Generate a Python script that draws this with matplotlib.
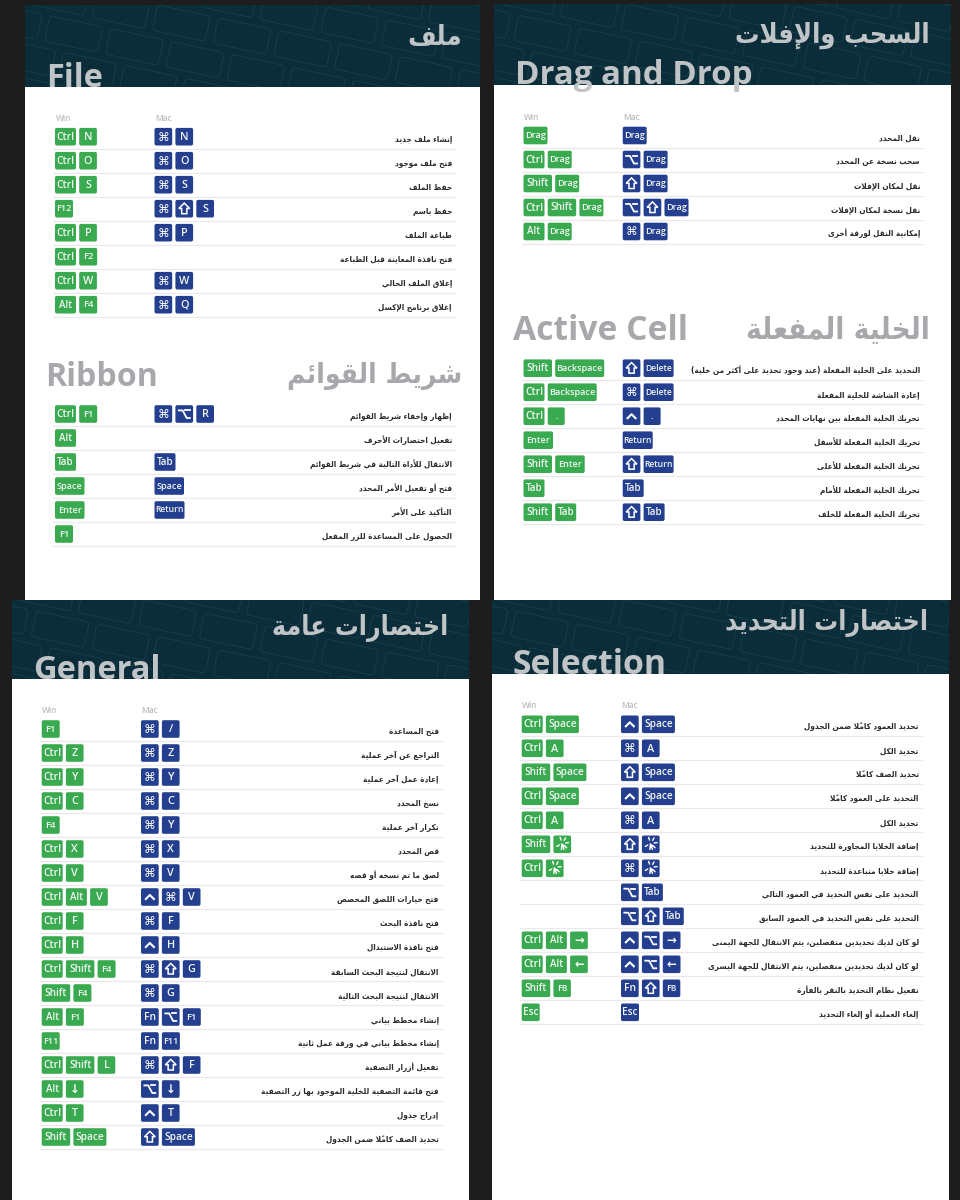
import math
import matplotlib
matplotlib.use("Agg")
import matplotlib.pyplot as plt
from matplotlib.patches import FancyBboxPatch, Rectangle, Polygon
from matplotlib.transforms import Affine2D

# ---------------- DATA ----------------
FILE_TITLE_EN, FILE_TITLE_AR = "File", "ملف"
FILE_ACTIONS = ["إنشاء ملف جديد", "فتح ملف موجود", "حفظ الملف", "حفظ باسم", "طباعة الملف",
                "فتح نافذة المعاينة قبل الطباعة", "إغلاق الملف الحالي", "إغلاق برنامج الإكسل"]
FILE_WIN = [["Ctrl", "N"], ["Ctrl", "O"], ["Ctrl", "S"], ["F12"], ["Ctrl", "P"], ["Ctrl", "F2"], ["Ctrl", "W"], ["Alt", "F4"]]
FILE_MAC = [["⌘", "N"], ["⌘", "O"], ["⌘", "S"], ["⌘", "⇧", "S"], ["⌘", "P"], [], ["⌘", "W"], ["⌘", "Q"]]

RIBBON_TITLE_EN, RIBBON_TITLE_AR = "Ribbon", "شريط القوائم"
RIBBON_ACTIONS = ["إظهار وإخفاء شريط القوائم", "تفعيل اختصارات الأحرف", "الانتقال للأداة التالية في شريط القوائم",
                  "فتح أو تفعيل الأمر المحدد", "التأكيد على الأمر", "الحصول على المساعدة للزر المفعل"]
RIBBON_WIN = [["Ctrl", "F1"], ["Alt"], ["Tab"], ["Space"], ["Enter"], ["F1"]]
RIBBON_MAC = [["⌘", "⌥", "R"], [], ["Tab"], ["Space"], ["Return"], []]

DRAG_TITLE_EN, DRAG_TITLE_AR = "Drag and Drop", "السحب والإفلات"
DRAG_ACTIONS = ["نقل المحدد", "سحب نسخة عن المحدد", "نقل لمكان الإفلات", "نقل نسخة لمكان الإفلات", "إمكانية النقل لورقة أخرى"]
DRAG_WIN = [["Drag"], ["Ctrl", "Drag"], ["Shift", "Drag"], ["Ctrl", "Shift", "Drag"], ["Alt", "Drag"]]
DRAG_MAC = [["Drag"], ["⌥", "Drag"], ["⇧", "Drag"], ["⌥", "⇧", "Drag"], ["⌘", "Drag"]]

ACTIVE_TITLE_EN, ACTIVE_TITLE_AR = "Active Cell", "الخلية المفعلة"
ACTIVE_ACTIONS = ["التحديد على الخلية المفعلة (عند وجود تحديد على أكثر من خلية)", "إعادة الشاشة للخلية المفعلة",
                  "تحريك الخلية المفعلة بين نهايات المحدد", "تحريك الخلية المفعلة للأسفل", "تحريك الخلية المفعلة للأعلى",
                  "تحريك الخلية المفعلة للأمام", "تحريك الخلية المفعلة للخلف"]
ACTIVE_WIN = [["Shift", "Backspace"], ["Ctrl", "Backspace"], ["Ctrl", "."], ["Enter"], ["Shift", "Enter"], ["Tab"], ["Shift", "Tab"]]
ACTIVE_MAC = [["⇧", "Delete"], ["⌘", "Delete"], ["⌃", "."], ["Return"], ["⇧", "Return"], ["Tab"], ["⇧", "Tab"]]

GENERAL_TITLE_EN, GENERAL_TITLE_AR = "General", "اختصارات عامة"
GENERAL_ACTIONS = ["فتح المساعدة", "التراجع عن آخر عملية", "إعادة عمل آخر عملية", "نسخ المحدد", "تكرار آخر عملية", "قص المحدد",
                   "لصق ما تم نسخه أو قصه", "فتح خيارات اللصق المخصص", "فتح نافذة البحث", "فتح نافذة الاستبدال",
                   "الانتقال لنتيجة البحث السابقة", "الانتقال لنتيجة البحث التالية", "إنشاء مخطط بياني",
                   "إنشاء مخطط بياني في ورقة عمل ثانية", "تفعيل أزرار التصفية",
                   "فتح قائمة التصفية للخلية الموجود بها زر التصفية", "إدراج جدول", "تحديد الصف كاملاً ضمن الجدول"]
GENERAL_WIN = [["F1"], ["Ctrl", "Z"], ["Ctrl", "Y"], ["Ctrl", "C"], ["F4"], ["Ctrl", "X"], ["Ctrl", "V"], ["Ctrl", "Alt", "V"],
               ["Ctrl", "F"], ["Ctrl", "H"], ["Ctrl", "Shift", "F4"], ["Shift", "F4"], ["Alt", "F1"], ["F11"],
               ["Ctrl", "Shift", "L"], ["Alt", "↓"], ["Ctrl", "T"], ["Shift", "Space"]]
GENERAL_MAC = [["⌘", "/"], ["⌘", "Z"], ["⌘", "Y"], ["⌘", "C"], ["⌘", "Y"], ["⌘", "X"], ["⌘", "V"], ["⌃", "⌘", "V"],
               ["⌘", "F"], ["⌃", "H"], ["⌘", "⇧", "G"], ["⌘", "G"], ["Fn", "⌥", "F1"], ["Fn", "F11"],
               ["⌘", "⇧", "F"], ["⌥", "↓"], ["⌃", "T"], ["⇧", "Space"]]

SELECT_TITLE_EN, SELECT_TITLE_AR = "Selection", "اختصارات التحديد"
SELECT_ACTIONS = ["تحديد العمود كاملاً ضمن الجدول", "تحديد الكل", "تحديد الصف كاملاً", "التحديد على العمود كاملاً", "تحديد الكل",
                  "إضافة الخلايا المجاورة للتحديد", "إضافة خلايا متباعدة للتحديد", "التحديد على نفس التحديد في العمود التالي",
                  "التحديد على نفس التحديد في العمود السابق", "لو كان لديك تحديدين منفصلين، يتم الانتقال للجهة اليمنى",
                  "لو كان لديك تحديدين منفصلين، يتم الانتقال للجهة اليسرى", "تفعيل نظام التحديد بالنقر بالفأرة",
                  "إلغاء العملية أو إلغاء التحديد"]
SELECT_WIN = [["Ctrl", "Space"], ["Ctrl", "A"], ["Shift", "Space"], ["Ctrl", "Space"], ["Ctrl", "A"], ["Shift", "CLICK"], ["Ctrl", "CLICK"],
              [], [], ["Ctrl", "Alt", "→"], ["Ctrl", "Alt", "←"], ["Shift", "F8"], ["Esc"]]
SELECT_MAC = [["⌃", "Space"], ["⌘", "A"], ["⇧", "Space"], ["⌃", "Space"], ["⌘", "A"], ["⇧", "CLICK"], ["⌘", "CLICK"],
              ["⌥", "Tab"], ["⌥", "⇧", "Tab"], ["⌃", "⌥", "→"], ["⌃", "⌥", "←"], ["Fn", "⇧", "F8"], ["Esc"]]

# ---------------- STYLE / LAYOUT ----------------
BG = "#1d1d1d"; TEAL = "#0a2d39"; TEAL_LINE = "#17404c"; GREEN = "#3aaa50"; BLUE = "#243f90"
TITLE_ON_DARK = "#c0c4c7"; TITLE_ON_WHITE = "#a6a8ab"; TXT = "#2b2b2b"; RULE = "#e9e9e9"; HEAD = "#bdbdbd"
KEY_H = 17.6; KEY_GAP = 3.2; ROW_H = 24.0
LAT = "Open Sans"; AR = "DejaVu Sans"
AR_SIZE = 5.85
# label: (key width px, font size pt)
KEYS = {"Ctrl": (21, 7.4), "Shift": (28.5, 7.2), "Alt": (21, 7), "Tab": (21, 7.1), "Space": (33, 7.3), "Enter": (29.5, 6.6),
        "Return": (30, 6.2), "Delete": (30, 6.2), "Backspace": (49, 6.6), "Drag": (24, 6.6), "F1": (18, 6.8), "F2": (18, 6.8),
        "F4": (18, 6.8), "F8": (17.5, 6.8), "F11": (18, 6.6), "F12": (18, 6.6), "Fn": (17.7, 7.4), "Esc": (18, 7.2), ".": (17, 7)}
ARROWS = "→←↓"

fig = plt.figure(figsize=(9.6, 12), dpi=100, facecolor=BG)
ax = fig.add_axes([0, 0, 1, 1])
ax.set_xlim(0, 960); ax.set_ylim(1200, 0); ax.axis("off")
ax.add_patch(Rectangle((0, 0), 960, 1200, fc=BG, ec="none", zorder=0))

# ---------------- Arabic shaping (matplotlib has none) ----------------
_N = {}
_cp = 0xFE80
for ch, n in [("ء", 1), ("آ", 2), ("أ", 2), ("ؤ", 2), ("إ", 2), ("ئ", 4), ("ا", 2), ("ب", 4), ("ة", 2), ("ت", 4), ("ث", 4),
              ("ج", 4), ("ح", 4), ("خ", 4), ("د", 2), ("ذ", 2), ("ر", 2), ("ز", 2), ("س", 4), ("ش", 4), ("ص", 4), ("ض", 4),
              ("ط", 4), ("ظ", 4), ("ع", 4), ("غ", 4), ("ف", 4), ("ق", 4), ("ك", 4), ("ل", 4), ("م", 4), ("ن", 4), ("ه", 4),
              ("و", 2), ("ى", 2), ("ي", 4)]:
    _N[ch] = [chr(_cp + i) for i in range(n)]
    _cp += n
_LA = {"آ": ("\uFEF5", "\uFEF6"), "أ": ("\uFEF7", "\uFEF8"), "إ": ("\uFEF9", "\uFEFA"), "ا": ("\uFEFB", "\uFEFC")}
_MIRROR = {"(": ")", ")": "("}


def shape(s):
    toks = []
    i = 0
    while i < len(s):
        c = s[i]
        if "\u064B" <= c <= "\u0652" and toks:
            toks[-1][1] += c
        elif c == "ل" and i + 1 < len(s) and s[i + 1] in _LA:
            toks.append(["LA" + s[i + 1], ""])
            i += 1
        else:
            toks.append([c, ""])
        i += 1

    def dual(t):
        return t in _N and len(_N[t]) == 4

    def joins(t):
        return t.startswith("LA") or (t in _N and len(_N[t]) > 1)

    out = []
    for k, (t, m) in enumerate(toks):
        prev_c = k > 0 and dual(toks[k - 1][0])
        next_c = k + 1 < len(toks) and dual(t) and joins(toks[k + 1][0])
        if t.startswith("LA"):
            g = _LA[t[2]][1 if prev_c else 0]
        elif t in _N:
            f = _N[t]
            if len(f) == 1:
                g = f[0]
            elif len(f) == 2:
                g = f[1 if prev_c else 0]
            else:
                g = f[3] if prev_c and next_c else f[1] if prev_c else f[2] if next_c else f[0]
        else:
            g = _MIRROR.get(t, t)
        out.append(g + m)
    return "".join(reversed(out))


renderer = fig.canvas.get_renderer()


def fit(t, width):
    w = t.get_window_extent(renderer).width
    t.set_fontsize(t.get_fontsize() * width / w)


def header_pattern(x0, x1, y0, y1):
    clip = Rectangle((x0, y0), x1 - x0, y1 - y0, transform=ax.transData, fc="none", ec="none")
    ax.add_patch(clip)
    rot = Affine2D().rotate_deg_around((x0 + x1) / 2, (y0 + y1) / 2, 12)
    for r in range(-2, 6):
        y = y0 - 45 + r * 33
        for c in range(-2, 11):
            x = x0 - 40 + c * 62 + (r * 21) % 62
            p = FancyBboxPatch((x, y), 54, 26, boxstyle="round,pad=0,rounding_size=4", fc="none", ec=TEAL_LINE, lw=0.6,
                               transform=rot + ax.transData, zorder=2)
            ax.add_patch(p)
            p.set_clip_path(clip)


def click_icon(cx, cy, color="white"):
    for a in range(-10, 300, 52):
        ca, sa = math.cos(math.radians(a - 100)), math.sin(math.radians(a - 100))
        ax.plot([cx + 3.4 * ca, cx + 6.3 * ca], [cy + 3.4 * sa - 1, cy + 6.3 * sa - 1], color=color, lw=1.0, zorder=6, solid_capstyle="round")
    ax.add_patch(Polygon([(cx - 1, cy - 1.5), (cx + 3.6, cy + 2), (cx + 1.5, cy + 2.4), (cx + 2.6, cy + 5.4), (cx + 1.2, cy + 5.8), (cx + 0.2, cy + 3), (cx - 1.2, cy + 4.2)],
                         closed=True, fc=color, ec="none", zorder=6))


def shift_icon(cx, cy):
    pts = [(cx, cy - 5.6), (cx + 5.4, cy - 0.2), (cx + 2.6, cy - 0.2), (cx + 2.6, cy + 5), (cx - 2.6, cy + 5), (cx - 2.6, cy - 0.2), (cx - 5.4, cy - 0.2)]
    ax.add_patch(Polygon(pts, closed=True, fc="none", ec="white", lw=1.1, zorder=6, joinstyle="miter"))


def option_icon(cx, cy):
    ax.plot([cx - 5.5, cx - 1.6, cx + 2.4, cx + 5.5], [cy - 3.6, cy - 3.6, cy + 4, cy + 4], color="white", lw=1.3, zorder=6)
    ax.plot([cx + 1.2, cx + 5.5], [cy - 3.6, cy - 3.6], color="white", lw=1.3, zorder=6)


def ctrl_icon(cx, cy):
    ax.plot([cx - 4, cx, cx + 4], [cy + 2, cy - 2, cy + 2], color="white", lw=1.5, zorder=6)


def key(x, yc, label, color):
    w = 17.7
    size = 7.8
    if label in KEYS:
        w, size = KEYS[label]
    ax.add_patch(FancyBboxPatch((x, yc - KEY_H / 2), w, KEY_H, boxstyle="round,pad=0,rounding_size=1.8", fc=color, ec="none", zorder=4))
    cx = x + w / 2
    if label == "CLICK":
        click_icon(cx, yc)
    elif label == "⇧":
        shift_icon(cx, yc)
    elif label == "⌥":
        option_icon(cx, yc)
    elif label == "⌃":
        ctrl_icon(cx, yc)
    elif label == "⌘":
        ax.text(cx, yc + 3.9, label, family="DejaVu Sans", fontsize=8.6, color="white", ha="center", va="baseline", zorder=6)
    elif label in ARROWS:
        ax.text(cx, yc + 3.7, label, family="DejaVu Sans", fontsize=8.5, color="white", fontweight="bold", ha="center", va="baseline", zorder=6)
    else:
        base = yc - 0.6 + size * (100 / 72) * 0.357
        ax.text(cx, base, label, family=LAT, fontsize=size, fontweight=600, color="#f1f6f2", ha="center", va="baseline", zorder=6)
    return x + w + KEY_GAP


def section(actions, win, mac, xwin, xmac, xright, y0, head=True, overrides=None):
    saved = {}
    for k, v in (overrides or {}).items():
        saved[k] = KEYS[k]
        KEYS[k] = v
    if head:
        ax.text(xwin + 0.5, y0 - 18.5, "Win", family=LAT, fontsize=6, color=HEAD, fontweight=600, va="center", zorder=5)
        ax.text(xmac + 0.5, y0 - 18.5, "Mac", family=LAT, fontsize=6, color=HEAD, fontweight=600, va="center", zorder=5)
    for i, a in enumerate(actions):
        yc = y0 + i * ROW_H
        x = xwin
        for lb in win[i]:
            x = key(x, yc, lb, GREEN)
        x = xmac
        for lb in mac[i]:
            x = key(x, yc, lb, BLUE)
        ax.text(xright, yc + 5, shape(a), family=AR, stretch="condensed", fontsize=AR_SIZE, fontweight="bold", color=TXT, ha="right", va="baseline", zorder=5)
        ax.plot([xwin - 2, xright + 3], [yc + 12, yc + 12], color=RULE, lw=0.9, zorder=3)
    KEYS.update(saved)


def panel(x0, x1, y0, y1, yh):
    ax.add_patch(Rectangle((x0, y0), x1 - x0, yh - y0, fc=TEAL, ec="none", zorder=1))
    header_pattern(x0, x1, y0, yh)
    ax.add_patch(Rectangle((x0, yh), x1 - x0, y1 - yh, fc="white", ec="none", zorder=3))


def title(en, ar, xen, yen, wen, xar, yar, war, color, size=24):
    t = ax.text(xen, yen, en, family=LAT, fontweight="bold", fontsize=size, color=color, ha="left", va="baseline", zorder=7)
    fit(t, wen)
    t = ax.text(xar, yar, shape(ar), family=AR, stretch="condensed", fontweight="bold", fontsize=size, color=color, ha="right", va="center", zorder=7)
    fit(t, war)


# panels
panel(25.3, 480, 4.5, 600, 86.5)
panel(494, 951, 4, 600, 85.3)
panel(12, 469, 600, 1200, 678.5)
panel(492, 949, 600, 1200, 674)

title(FILE_TITLE_EN, FILE_TITLE_AR, 46, 87, 57, 462, 38, 55, TITLE_ON_DARK)
title(DRAG_TITLE_EN, DRAG_TITLE_AR, 515, 84, 238, 930, 35, 195, TITLE_ON_DARK)
title(RIBBON_TITLE_EN, RIBBON_TITLE_AR, 45, 386, 113, 462, 376, 175, TITLE_ON_WHITE)
title(ACTIVE_TITLE_EN, ACTIVE_TITLE_AR, 513, 340, 175, 930, 330, 185, TITLE_ON_WHITE)
title(GENERAL_TITLE_EN, GENERAL_TITLE_AR, 33, 679, 128, 448, 628, 177, TITLE_ON_DARK)
title(SELECT_TITLE_EN, SELECT_TITLE_AR, 513, 674, 154, 928, 623, 204, TITLE_ON_DARK)

NARROW = {"Space": (29.5, 6.6)}
section(FILE_ACTIONS, FILE_WIN, FILE_MAC, 55, 154.5, 452, 136.7)
section(RIBBON_ACTIONS, RIBBON_WIN, RIBBON_MAC, 55, 154.5, 452, 414, head=False, overrides=NARROW)
section(DRAG_ACTIONS, DRAG_WIN, DRAG_MAC, 523.5, 622.7, 920, 135.5)
section(ACTIVE_ACTIONS, ACTIVE_WIN, ACTIVE_MAC, 523.5, 622.7, 920, 368.2, head=False)
section(GENERAL_ACTIONS, GENERAL_WIN, GENERAL_MAC, 41.7, 141, 438.7, 729)
section(SELECT_ACTIONS, SELECT_WIN, SELECT_MAC, 521.7, 621, 918.7, 724.3)

fig.savefig("out.png", dpi=100, facecolor=BG)
